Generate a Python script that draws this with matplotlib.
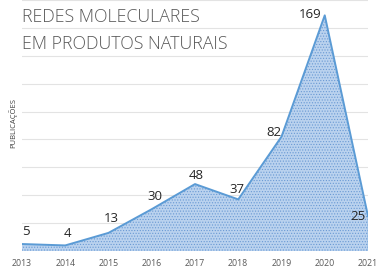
import numpy as np
import matplotlib.pyplot as plt

anos = [2013, 2014, 2015, 2016, 2017, 2018, 2019, 2020, 2021]
publicacoes = [5, 4, 13, 30, 48, 37, 82, 169, 25]
# deslocamento dos rotulos (pixels)
offsets = [(4, 13), (2, 12), (3, 14), (3, 13), (1, 9), (-1, 10), (-8, 4), (-15, 1), (-10, 0)]

plt.rcParams['font.family'] = ['Open Sans', 'DejaVu Sans']
plt.rcParams['hatch.color'] = '#6a9ad4'
plt.rcParams['hatch.linewidth'] = 0.5

fig = plt.figure(figsize=(3.83, 2.73), dpi=100)
ax = fig.add_axes([22/383, 22/273, 346/383, 251/273])

ax.fill_between(anos, publicacoes, 0, facecolor='#bad2ee', hatch='......',
                edgecolor='#6a9ad4', linewidth=0, zorder=2)
ax.plot(anos, publicacoes, color='#5b9bd5', lw=1.4, zorder=3)
ax.plot([anos[-1], anos[-1]], [0, publicacoes[-1]], color='#5b9bd5', lw=1.0, zorder=3)

for a, p, (dx, dy) in zip(anos, publicacoes, offsets):
    ax.annotate(str(p), (a, p), xytext=(dx, dy), textcoords='offset pixels',
                ha='center', va='center', fontsize=9.5, color='#262626', zorder=4)

ax.set_xlim(2013, 2021)
ax.set_ylim(0, 180)
ax.set_yticks(np.arange(0, 181, 20))
ax.set_yticklabels([])
ax.set_xticks(anos)
ax.tick_params(axis='both', length=0)
ax.tick_params(axis='x', labelsize=6.3, labelcolor='#595959', pad=6)
ax.grid(axis='y', color='#e3e3e3', lw=0.8, zorder=0)
for s in ax.spines.values():
    s.set_visible(False)

fig.text(13/383, 1 - 123/273, 'PUBLICAÇÕES', rotation=90, ha='center', va='center',
         fontsize=5.5, color='#404040')
fig.text(22/383, 1 - 17/273, 'REDES MOLECULARES', ha='left', va='center',
         fontsize=12.8, color='#595959', fontweight='light')
fig.text(22/383, 1 - 44/273, 'EM PRODUTOS NATURAIS', ha='left', va='center',
         fontsize=12.8, color='#595959', fontweight='light')

fig.savefig('out.png', dpi=100)
